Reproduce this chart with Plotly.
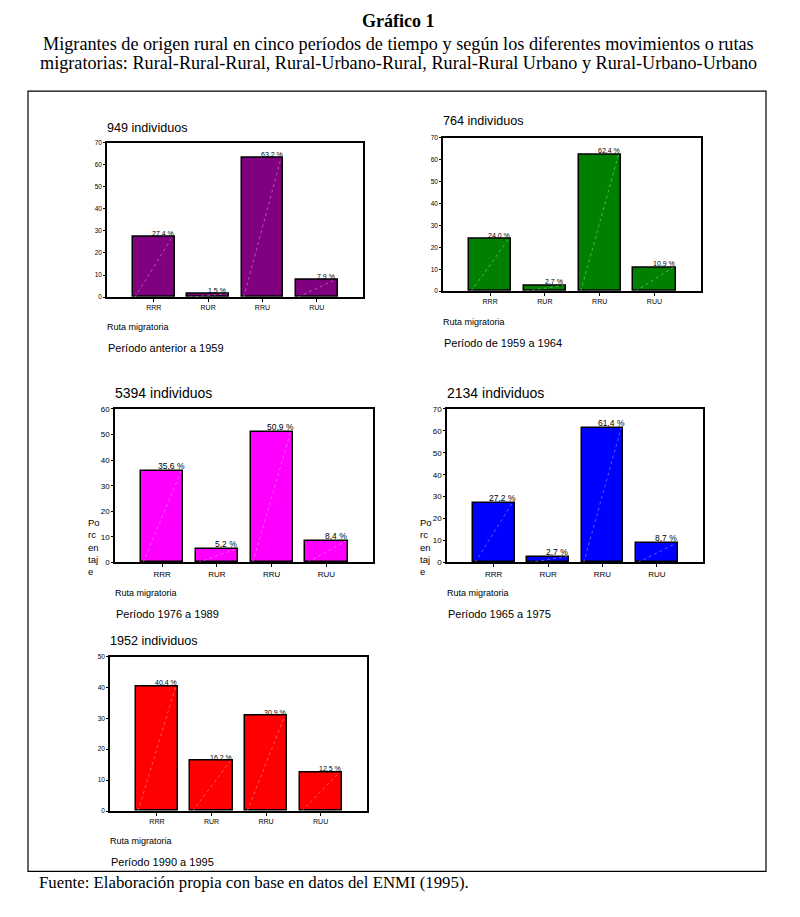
import plotly.graph_objects as go

W, H = 800, 917

categories = ["RRR", "RUR", "RRU", "RUU"]

titles = ["949 individuos", "764 individuos", "5394 individuos", "2134 individuos", "1952 individuos"]
periods = ["Período anterior a 1959", "Período de 1959 a 1964", "Período 1976 a 1989",
           "Período 1965 a 1975", "Período 1990 a 1995"]
values_p1 = [27.4, 1.5, 63.2, 7.9]
values_p2 = [24.0, 2.7, 62.4, 10.9]
values_p3 = [35.6, 5.2, 50.9, 8.4]
values_p4 = [27.2, 2.7, 61.4, 8.7]
values_p5 = [40.4, 16.2, 30.9, 12.5]
y_max = [70, 70, 60, 70, 50]
colors = ["#800080", "#008000", "#FF00FF", "#0000FF", "#FF0000"]
all_values = [values_p1, values_p2, values_p3, values_p4, values_p5]

# layout in pixels: x0, x1, ytop, ybottom, big fonts?, y-title?
boxes = [
    dict(x0=107, x1=363, yt=140, yb=296, big=False, ytitle=False, tity=125, ruta=326, per=347),
    dict(x0=443, x1=701, yt=135, yb=290, big=False, ytitle=False, tity=118, ruta=321, per=342),
    dict(x0=115, x1=373, yt=409, yb=564, big=True, ytitle=True, tity=393, ruta=595, per=616),
    dict(x0=447, x1=703, yt=409, yb=564, big=True, ytitle=True, tity=393, ruta=595, per=616),
    dict(x0=110, x1=367, yt=659, yb=815, big=False, ytitle=False, tity=643, ruta=845, per=867),
]

FONT = "Liberation Sans, Arial, sans-serif"
SERIF = "Liberation Serif, Times New Roman, serif"
BW = 0.77

fig = go.Figure()
annotations = []
shapes = []

def px(x):
    return x / W

def py(y):
    return 1 - y / H

for k, (vals, col, b) in enumerate(zip(all_values, colors, boxes)):
    sfx = "" if k == 0 else str(k + 1)
    xa, ya = "x" + sfx, "y" + sfx
    xs = list(range(len(categories)))
    fig.add_trace(go.Bar(
        x=xs, y=vals, width=BW, marker=dict(color=col, line=dict(color="black", width=1.5)),
        xaxis=xa, yaxis=ya, showlegend=False, hoverinfo="skip"))
    # diagonal light dotted line inside each bar
    for i, v in enumerate(vals):
        fig.add_trace(go.Scatter(
            x=[i - BW / 2 + 0.04, i + BW / 2 - 0.04], y=[0, v], mode="lines",
            line=dict(color="rgba(255,255,255,0.35)", width=1, dash="dot"),
            xaxis=xa, yaxis=ya, showlegend=False, hoverinfo="skip"))
    tick_size = 8 if b["big"] else 6.5
    cat_size = 8 if b["big"] else 7
    lab_size = 8.5 if b["big"] else 7
    fig.layout["xaxis" + sfx] = dict(
        domain=[px(b["x0"]), px(b["x1"])], anchor=ya, range=[-0.86, 3.85],
        tickmode="array", tickvals=xs, ticktext=categories,
        tickfont=dict(family=FONT, size=cat_size, color="black"),
        showline=True, linecolor="black", linewidth=1.5, mirror=True,
        ticks="outside", ticklen=3, tickcolor="black", showgrid=False, zeroline=False, fixedrange=True)
    fig.layout["yaxis" + sfx] = dict(
        domain=[py(b["yb"]), py(b["yt"])], anchor=xa, range=[0, y_max[k]], dtick=10,
        tickfont=dict(family=FONT, size=tick_size, color="black"),
        showline=True, linecolor="black", linewidth=1.5, mirror=True,
        ticks="outside", ticklen=2, tickcolor="black", showgrid=False, zeroline=False, fixedrange=True)
    for i, v in enumerate(vals):
        annotations.append(dict(
            x=i + 0.17, y=v, xref=xa, yref=ya, text=f"{v:.1f}".replace(".", ",") + " %",
            showarrow=False, yanchor="bottom", xanchor="center", yshift=-2,
            font=dict(family=FONT, size=lab_size, color="black")))
    annotations.append(dict(x=px(b["x0"] - 2), y=py(b["tity"]), xref="paper", yref="paper",
                            text=titles[k], showarrow=False, xanchor="left", yanchor="middle",
                            font=dict(family=FONT, size=14 if b["big"] else 12.6, color="black")))
    annotations.append(dict(x=px(b["x0"] - 2), y=py(b["ruta"]), xref="paper", yref="paper",
                            text="Ruta migratoria", showarrow=False, xanchor="left", yanchor="middle",
                            font=dict(family=FONT, size=9, color="black")))
    annotations.append(dict(x=px(b["x0"] - 1), y=py(b["per"]), xref="paper", yref="paper",
                            text=periods[k], showarrow=False, xanchor="left", yanchor="middle",
                            font=dict(family=FONT, size=11, color="black")))
    if b["ytitle"]:
        annotations.append(dict(x=px(b["x0"] - 29), y=py(516), xref="paper", yref="paper",
                                text="Po<br>rc<br>en<br>taj<br>e", showarrow=False,
                                xanchor="left", yanchor="top", align="left",
                                font=dict(family=FONT, size=9.5, color="black")))

# Headings
annotations.append(dict(x=0.497, y=py(17), xref="paper", yref="paper", text="<b>Gráfico 1</b>",
                        showarrow=False, xanchor="center", yanchor="middle",
                        font=dict(family=SERIF, size=18, color="black")))
annotations.append(dict(x=0.498, y=py(40), xref="paper", yref="paper",
                        text="Migrantes de origen rural en cinco períodos de tiempo y según los diferentes movimientos o rutas",
                        showarrow=False, xanchor="center", yanchor="middle",
                        font=dict(family=SERIF, size=18.2, color="black")))
annotations.append(dict(x=0.498, y=py(60), xref="paper", yref="paper",
                        text="migratorias: Rural-Rural-Rural, Rural-Urbano-Rural, Rural-Rural Urbano y Rural-Urbano-Urbano",
                        showarrow=False, xanchor="center", yanchor="middle",
                        font=dict(family=SERIF, size=18.2, color="black")))
annotations.append(dict(x=px(37), y=py(887), xref="paper", yref="paper",
                        text="Fuente: Elaboración propia con base en datos del ENMI (1995).",
                        showarrow=False, xanchor="left", yanchor="middle",
                        font=dict(family=SERIF, size=16.8, color="black")))

shapes.append(dict(type="rect", xref="paper", yref="paper", x0=px(28), x1=px(766),
                   y0=py(876), y1=py(88), line=dict(color="black", width=1.2)))

fig.update_layout(width=W, height=H, margin=dict(l=0, r=0, t=0, b=0),
                  paper_bgcolor="white", plot_bgcolor="white", bargap=0,
                  annotations=annotations, shapes=shapes)

fig.write_html("out.html", config={"displayModeBar": False},
               post_script="document.body.style.margin='0px';document.body.style.overflow='hidden';")
